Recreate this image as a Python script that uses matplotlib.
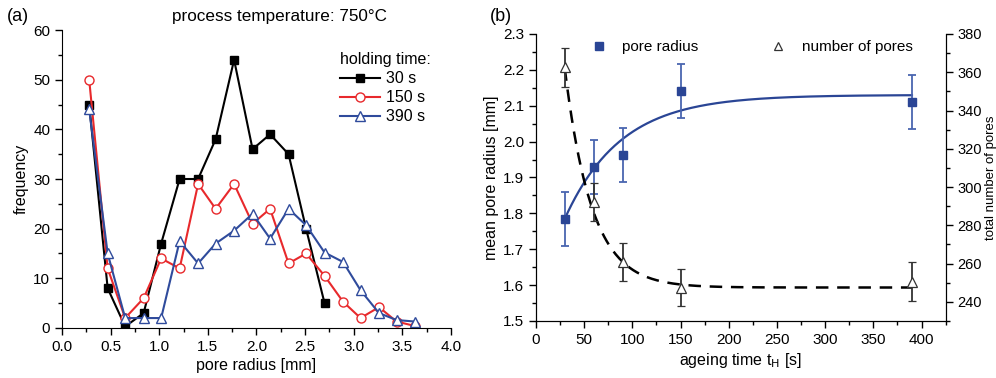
import numpy as np
import matplotlib
matplotlib.use("Agg")
import matplotlib.pyplot as plt
from matplotlib.ticker import MultipleLocator, FormatStrFormatter
from matplotlib.lines import Line2D

plt.rcParams['font.family'] = ['Liberation Sans', 'DejaVu Sans']
plt.rcParams['font.size'] = 10

# (a) pore radius distributions
radius = [0.28, 0.47, 0.65, 0.84, 1.02, 1.21, 1.40, 1.58, 1.77, 1.96,
          2.14, 2.33, 2.51, 2.70, 2.89, 3.07, 3.26, 3.44, 3.63]
freq_30 = [45, 8, 0.3, 3, 17, 30, 30, 38, 54, 36, 39, 35, 20, 5]
freq_150 = [50, 12, 2, 6, 14, 12, 29, 24, 29, 21, 24, 13, 15, 10.5, 5.3, 2, 4.2, 1.3, 0.4]
freq_390 = [44, 15, 2, 2, 2, 17.5, 13, 17, 19.6, 23, 18, 24, 20.7, 15.2, 13.3, 7.6, 3, 1.6, 1.3]

# (b) ageing time series
age_t = [30, 60, 90, 150, 390]
pore_r = [1.785, 1.93, 1.963, 2.14, 2.111]
pore_r_err = [0.075, 0.075, 0.075, 0.075, 0.075]
n_pores = [362.5, 292, 260.7, 247.5, 250.6]
n_pores_err = [10, 10, 10, 9.7, 10]

# fit parameters
r_plateau, r_start, r_tau = 2.13, 1.785, 58.0
n_plateau, n_start, n_tau = 247.5, 362.0, 28.0

RED = '#e8292c'
BLUE = '#2f4b9c'
DBLUE = '#2a4595'

fig = plt.figure(figsize=(9.96, 3.78), dpi=100)

# ---------------- panel (a)
ax = fig.add_axes([0.0622, 0.1323, 0.3906, 0.7883])
ax.plot(radius[:len(freq_30)], freq_30, '-s', color='black', lw=1.5, ms=6,
        label='30 s')
ax.plot(radius, freq_150, '-o', color=RED, lw=1.5, ms=6.5, mfc='white',
        mew=1.0, label='150 s')
ax.plot(radius, freq_390, '-^', color=BLUE, lw=1.5, ms=7, mfc='white',
        mew=1.0, label='390 s')
ax.set_xlim(0, 4.0)
ax.set_ylim(0, 60)
ax.xaxis.set_major_locator(MultipleLocator(0.5))
ax.xaxis.set_minor_locator(MultipleLocator(0.25))
ax.xaxis.set_major_formatter(FormatStrFormatter('%.1f'))
ax.yaxis.set_major_locator(MultipleLocator(10))
ax.yaxis.set_minor_locator(MultipleLocator(5))
ax.spines['top'].set_visible(False)
ax.spines['right'].set_visible(False)
ax.tick_params(which='major', length=5, width=1, labelsize=11)
ax.tick_params(which='minor', length=3, width=1)
ax.set_xlabel('pore radius [mm]', fontsize=11.5, labelpad=3)
ax.set_ylabel('frequency', fontsize=11.5, labelpad=3)
ax.legend(title='holding time:', frameon=False, loc='upper left',
          bbox_to_anchor=(0.715, 0.925), fontsize=11.5,
          title_fontsize=11.5, handlelength=2.5, handletextpad=0.4,
          labelspacing=0.25, borderaxespad=0, borderpad=0,
          alignment='left')
fig.text(0.007, 0.945, '(a)', fontsize=13)
fig.text(0.281, 0.945, 'process temperature: 750\u00b0C', fontsize=12.3,
         ha='center')

# ---------------- panel (b)
bx = fig.add_axes([0.538, 0.1508, 0.4115, 0.7593])
tt = np.linspace(age_t[0], age_t[-1], 300)
r_fit = r_plateau - (r_plateau - r_start) * np.exp(-(tt - age_t[0]) / r_tau)
bx.plot(tt, r_fit, '-', color=DBLUE, lw=1.6)
bx.errorbar(age_t, pore_r, yerr=pore_r_err, fmt='s', color=DBLUE, ms=5.5,
            ecolor='#4a66b0', elinewidth=1.3, capsize=3, capthick=1.3)
bx.set_xlim(0, 425)
bx.set_ylim(1.5, 2.3)
bx.xaxis.set_major_locator(MultipleLocator(50))
bx.xaxis.set_minor_locator(MultipleLocator(25))
bx.yaxis.set_major_locator(MultipleLocator(0.1))
bx.yaxis.set_minor_locator(MultipleLocator(0.05))
bx.spines['top'].set_visible(False)
bx.tick_params(which='major', length=5, width=1, labelsize=11)
bx.tick_params(which='minor', length=3, width=1)
bx.set_xlabel('ageing time t$_\\mathrm{H}$ [s]', fontsize=11.5, labelpad=3)
bx.set_ylabel('mean pore radius [mm]', fontsize=11.5, labelpad=3)
h_r = Line2D([], [], ls='none', marker='s', color=DBLUE, ms=5.5)
bx.legend([h_r], ['pore radius'], frameon=False, loc='upper left',
          bbox_to_anchor=(0.11, 1.0), fontsize=11, handlelength=1.5,
          handletextpad=0.8, borderaxespad=0)

cx = bx.twinx()
n_fit = n_plateau + (n_start - n_plateau) * np.exp(-(tt - age_t[0]) / n_tau)
cx.plot(tt, n_fit, '--', color='black', lw=1.8, dashes=(5, 3.5))
cx.errorbar(age_t, n_pores, yerr=n_pores_err, fmt='^', color='#333333',
            mfc='white', mec='#333333', ms=7, mew=0.9, ecolor='#333333',
            elinewidth=1.3, capsize=3, capthick=1.3)
cx.set_ylim(230, 380)
cx.yaxis.set_major_locator(MultipleLocator(20))
cx.yaxis.set_minor_locator(MultipleLocator(10))
cx.spines['top'].set_visible(False)
cx.tick_params(which='major', length=5, width=1, labelsize=10.5)
cx.tick_params(which='minor', length=3, width=1)
cx.set_ylabel('total number of pores', fontsize=9.5, labelpad=2)
h_n = Line2D([], [], ls='none', marker='^', color='#333333', mfc='white',
             ms=6, mew=0.9)
cx.legend([h_n], ['number of pores'], frameon=False, loc='upper right',
          bbox_to_anchor=(0.935, 1.0), fontsize=11, handlelength=1.5,
          handletextpad=0.8, borderaxespad=0)
fig.text(0.492, 0.945, '(b)', fontsize=13)

fig.savefig('out.png', dpi=100)
